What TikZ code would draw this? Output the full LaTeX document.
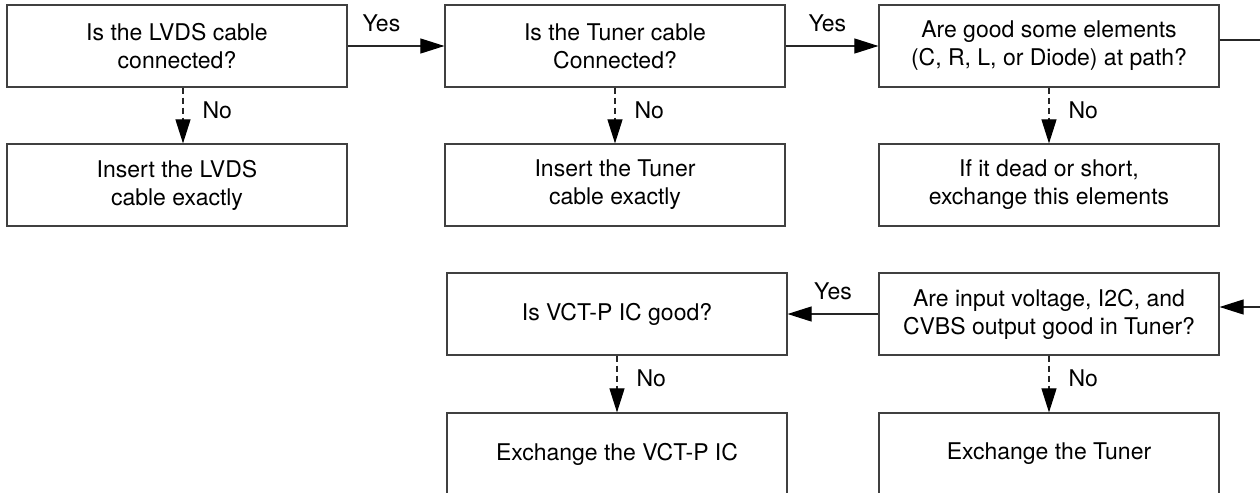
\documentclass[tikz,border=0pt]{standalone}
\usepackage{fontspec}
\setmainfont{TeX Gyre Heros}
\usetikzlibrary{shapes, arrows.meta, positioning}

\tikzset{
  box/.style={draw=black!75, line width=0.6pt, minimum width=170pt, minimum height=41pt,
    align=center, font=\fontsize{11.5}{14}\selectfont},
  lab/.style={inner sep=2pt, font=\fontsize{11.5}{14}\selectfont},
  yesarrow/.style={draw=black!85, line width=0.55pt, -{Triangle[length=12pt,width=7.5pt,black]}},
  noarrow/.style={yesarrow, dash pattern=on 3pt off 2pt},
}

\begin{document}
\begin{tikzpicture}[x=0.5pt, y=-0.5pt]
    \useasboundingbox (0,0) rectangle (1260,493);

    % --- questions ---
    \node[box] (q1) at (177,46) {Is the LVDS cable\\connected?};
    \node[box] (q2) at (615,46) {Is the Tuner cable\\Connected?};
    \node[box] (q3) at (1049,46) {Are good some elements\\(C, R, L, or Diode) at path?};
    \node[box] (q4) at (1049,314) {Are input voltage, I2C, and\\CVBS output good in Tuner?};
    \node[box] (q5) at (617,314) {Is VCT-P IC good?};

    % --- actions ---
    \node[box] (a1) at (177,185) {Insert the LVDS\\cable exactly};
    \node[box] (a2) at (615,185) {Insert the Tuner\\cable exactly};
    \node[box] (a3) at (1049,185) {If it dead or short,\\exchange this elements};
    \node[box] (a4) at (1049,454) {Exchange the Tuner};
    \node[box] (a5) at (617,454) {Exchange the VCT-P IC};

    % free ends at the right border
    \coordinate (edgetop) at (1260,40);
    \coordinate (edgebot) at (1260,307);

    % Yes
    \draw[yesarrow] (q1.east) -- node[lab, pos=0.35, above=5pt] {Yes} (q2.west);
    \draw[yesarrow] (q2.east) -- node[lab, pos=0.45, above=5pt] {Yes} (q3.west);
    \draw[draw=black!85, line width=0.55pt] (q3.east |- edgetop) -- (edgetop);
    \draw[yesarrow] (edgebot) -- (edgebot -| q4.east);
    \draw[yesarrow] (q4.west) -- node[lab, pos=0.5, above=5pt] {Yes} (q5.east);

    % No
    \draw[noarrow] ([xshift=3pt]q1.south) -- node[lab, pos=0.4, right=7.5pt] {No} ([xshift=3pt]a1.north);
    \draw[noarrow] (q2.south) -- node[lab, pos=0.4, right=7.5pt] {No} (a2.north);
    \draw[noarrow] (q3.south) -- node[lab, pos=0.4, right=7.5pt] {No} (a3.north);
    \draw[noarrow] (q4.south) -- node[lab, pos=0.4, right=7.5pt] {No} (a4.north);
    \draw[noarrow] (q5.south) -- node[lab, pos=0.4, right=7.5pt] {No} (a5.north);

\end{tikzpicture}
\end{document}
